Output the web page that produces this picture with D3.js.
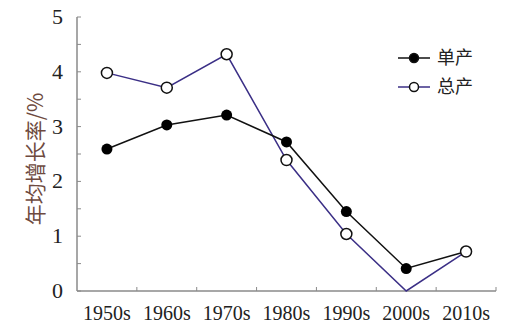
<!DOCTYPE html>
<html>
<head>
<meta charset="utf-8">
<script src="https://cdn.jsdelivr.net/npm/d3@7"></script>
<style>
  body { margin: 0; background: #fff; }
  svg { display: block; }
</style>
</head>
<body>
<div id="chart"></div>
<script>
const decades = ["1950s", "1960s", "1970s", "1980s", "1990s", "2000s", "2010s"];
const yieldRate = [2.59, 3.03, 3.21, 2.72, 1.45, 0.41, 0.72];   // 单产
const totalRate = [3.98, 3.71, 4.32, 2.39, 1.04, 0.0, 0.72];    // 总产
const yTicks = [0, 1, 2, 3, 4, 5];

const W = 506, H = 332;
const margin = { top: 17, right: 10, bottom: 41, left: 77 };
const width = 496 - margin.left, height = 291 - margin.top;

const svg = d3.select("#chart").append("svg")
  .attr("width", W).attr("height", H);
const g = svg.append("g")
  .attr("transform", "translate(" + margin.left + "," + margin.top + ")");

const x = d3.scaleBand().domain(decades).range([0, width]);
const y = d3.scaleLinear().domain([0, 5]).range([height, 0]);

const serif = "Liberation Serif, Times New Roman, DejaVu Serif, serif";
const axisColor = "#8a8a8a";

// y axis
g.append("line").attr("x1", 0).attr("x2", 0).attr("y1", 0).attr("y2", height)
  .attr("stroke", axisColor).attr("stroke-width", 1.5);
g.selectAll(".ytick").data(d3.range(0, 5.01, 0.5)).enter().append("line")
  .attr("x1", 0).attr("x2", 4)
  .attr("y1", d => y(d)).attr("y2", d => y(d))
  .attr("stroke", axisColor);
g.selectAll(".ylab").data(yTicks).enter().append("text")
  .attr("x", -14).attr("y", d => y(d) + 7)
  .attr("text-anchor", "end")
  .attr("font-family", serif).attr("font-size", 22).attr("fill", "#222")
  .text(d => d);

// x axis
g.append("line").attr("x1", 0).attr("x2", width).attr("y1", height).attr("y2", height)
  .attr("stroke", axisColor).attr("stroke-width", 1.5);
g.selectAll(".xtick").data(decades).enter().append("line")
  .attr("x1", d => x(d) + x.bandwidth()).attr("x2", d => x(d) + x.bandwidth())
  .attr("y1", height).attr("y2", height - 4)
  .attr("stroke", axisColor);
g.selectAll(".xlab").data(decades).enter().append("text")
  .attr("x", d => x(d) + x.bandwidth() / 2).attr("y", height + 29)
  .attr("text-anchor", "middle")
  .attr("font-family", serif).attr("font-size", 20).attr("fill", "#222")
  .text(d => d);

// y label
svg.append("text")
  .attr("transform", "translate(43,159) rotate(-90)")
  .attr("text-anchor", "middle")
  .attr("font-family", "Noto Sans CJK SC, sans-serif").attr("font-size", 21)
  .attr("fill", "#6e4a40")
  .text("年均增长率/%");

const px = i => x(decades[i]) + x.bandwidth() / 2;
const line = d3.line().x((d, i) => px(i)).y(d => y(d));

// 总产 line (behind)
g.append("path").datum(totalRate).attr("d", line)
  .attr("fill", "none").attr("stroke", "#3b2f86").attr("stroke-width", 1.5);
// 单产 line
g.append("path").datum(yieldRate).attr("d", line)
  .attr("fill", "none").attr("stroke", "#111").attr("stroke-width", 1.5);

g.selectAll(".pt1").data(yieldRate.map((v, i) => ({ v, i }))).enter().append("circle")
  .attr("cx", d => px(d.i)).attr("cy", d => y(d.v)).attr("r", 5.5)
  .attr("fill", "#000");

// open markers; the zero point sits under the axis and is not drawn
g.selectAll(".pt2").data(totalRate.map((v, i) => ({ v, i })).filter(d => d.v > 0))
  .enter().append("circle")
  .attr("cx", d => px(d.i)).attr("cy", d => y(d.v)).attr("r", 5.5)
  .attr("fill", "#fff").attr("stroke", "#111").attr("stroke-width", 1.5);

// legend
const legend = svg.append("g").attr("transform", "translate(398,58)");
const items = [
  { name: "单产", color: "#111", fill: "#000" },
  { name: "总产", color: "#3b2f86", fill: "#fff" }
];
items.forEach((it, i) => {
  const lg = legend.append("g").attr("transform", "translate(0," + i * 29 + ")");
  lg.append("line").attr("x1", 0).attr("x2", 32).attr("stroke", it.color).attr("stroke-width", 1.5);
  lg.append("circle").attr("cx", 16).attr("r", 4.5).attr("fill", it.fill)
    .attr("stroke", "#111").attr("stroke-width", 1.5);
  lg.append("text").attr("x", 39).attr("y", 6)
    .attr("font-family", "Noto Sans CJK SC, sans-serif").attr("font-size", 18)
    .attr("fill", "#222").text(it.name);
});
</script>
</body>
</html>
